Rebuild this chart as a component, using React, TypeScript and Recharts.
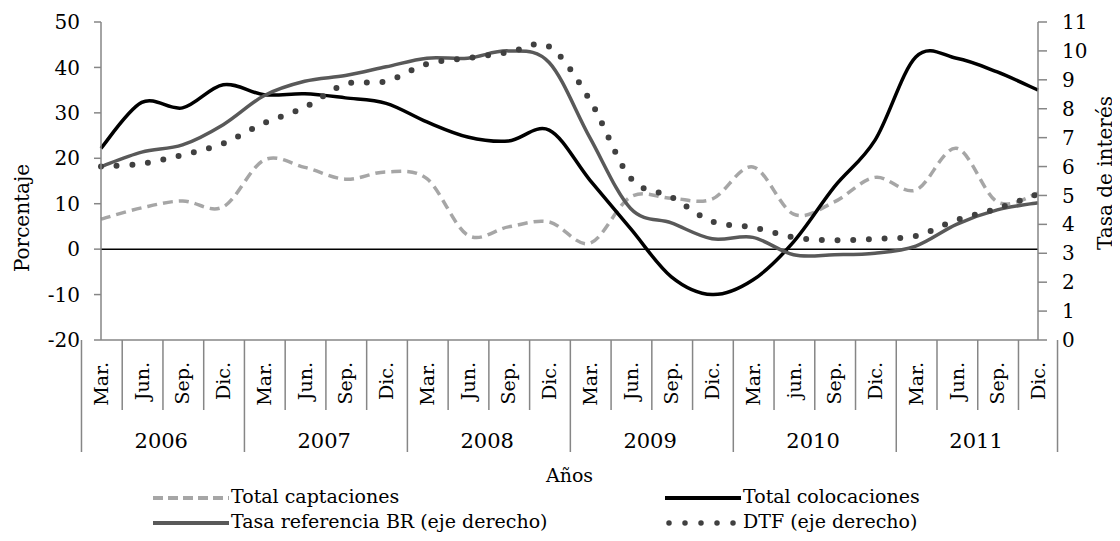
import { ComposedChart, Line, XAxis, YAxis, ReferenceLine } from 'recharts';

const quarters = ['Mar.', 'Jun.', 'Sep.', 'Dic.', 'Mar.', 'Jun.', 'Sep.', 'Dic.', 'Mar.', 'Jun.', 'Sep.', 'Dic.',
  'Mar.', 'Jun.', 'Sep.', 'Dic.', 'Mar.', 'jun.', 'Sep.', 'Dic.', 'Mar.', 'Jun.', 'Sep.', 'Dic.'];
const years = ['2006', '2007', '2008', '2009', '2010', '2011'];

// crecimiento anual (%), eje izquierdo
const captaciones = [6.6, 9.1, 10.6, 9.3, 19.6, 18.0, 15.4, 17.0, 15.5, 3.1, 4.9, 6.0,
  1.3, 11.5, 11.2, 11.0, 18.1, 7.7, 10.4, 15.8, 13.0, 22.2, 10.4, 12.3];
const colocaciones = [22.2, 32.3, 31.1, 36.2, 34.0, 34.2, 33.3, 32.1, 28.0, 24.7, 23.8, 26.2,
  15.2, 4.5, -6.1, -10.0, -6.8, 1.6, 13.7, 24.0, 42.3, 42.0, 39.0, 35.0];
// tasas (%), eje derecho
const tasaBR = [6.0, 6.5, 6.75, 7.45, 8.45, 8.95, 9.15, 9.45, 9.75, 9.75, 10.0, 9.6,
  7.0, 4.55, 4.05, 3.5, 3.55, 2.95, 2.95, 3.0, 3.25, 4.0, 4.5, 4.75];
const dtf = [6.0, 6.1, 6.4, 6.8, 7.5, 8.05, 8.85, 8.95, 9.55, 9.75, 9.95, 10.15,
  8.3, 5.6, 4.95, 4.1, 3.9, 3.55, 3.45, 3.5, 3.6, 4.15, 4.55, 5.05];

const leftTicks = [-20, -10, 0, 10, 20, 30, 40, 50];
const rightTicks = [0, 1, 2, 3, 4, 5, 6, 7, 8, 9, 10, 11];

const data = quarters.map((q, i) => ({
  q, captaciones: captaciones[i], colocaciones: colocaciones[i], br: tasaBR[i], dtf: dtf[i],
}));

const FONT = '"DejaVu Serif", serif';
const AXIS = '#868686';
const W = 1112, H = 525;
const LEFT_W = 93, RIGHT_W = 82, TOP = 14;
const PLOT_W = W - LEFT_W - RIGHT_W;

// Excel-style smoothed line (Catmull-Rom through the points)
const excelSmooth: any = (context: any) => {
  let pts: number[][] = [];
  return {
    areaStart() {},
    areaEnd() {},
    lineStart() { pts = []; },
    point(x: number, y: number) { pts.push([+x, +y]); },
    lineEnd() {
      if (!pts.length) return;
      context.moveTo(pts[0][0], pts[0][1]);
      for (let i = 0; i < pts.length - 1; i++) {
        const p0 = pts[i - 1] || pts[i];
        const p1 = pts[i];
        const p2 = pts[i + 1];
        const p3 = pts[i + 2] || p2;
        context.bezierCurveTo(
          p1[0] + (p2[0] - p0[0]) / 6, p1[1] + (p2[1] - p0[1]) / 6,
          p2[0] - (p3[0] - p1[0]) / 6, p2[1] - (p3[1] - p1[1]) / 6,
          p2[0], p2[1],
        );
      }
    },
  };
};

const series = [
  { key: 'captaciones', name: 'Total captaciones', axis: 'left', color: '#a6a6a6', width: 3.5, dash: '10 6', cap: 'butt' },
  { key: 'colocaciones', name: 'Total colocaciones', axis: 'left', color: '#000000', width: 3.5, dash: undefined, cap: 'butt' },
  { key: 'br', name: 'Tasa referencia BR (eje derecho)', axis: 'right', color: '#595959', width: 3.5, dash: undefined, cap: 'butt' },
  { key: 'dtf', name: 'DTF (eje derecho)', axis: 'right', color: '#404040', width: 6, dash: '0 15.7', cap: 'round' },
];

function QuarterTick(props: any) {
  const { x, y, payload } = props;
  const i = payload.index;
  const band = PLOT_W / quarters.length;
  const left = x - band / 2;
  return (
    <g>
      <line x1={left} y1={y} x2={left} y2={y + (i % 4 === 0 ? 112 : 70)} stroke={AXIS} strokeWidth={1.5} />
      {i === quarters.length - 1 && (
        <line x1={x + band / 2} y1={y} x2={x + band / 2} y2={y + 112} stroke={AXIS} strokeWidth={1.5} />
      )}
      <text transform={`translate(${x + 7},${y + 22}) rotate(-90)`} textAnchor="end" fontSize={19} fill="#000" fontFamily={FONT}>
        {payload.value}
      </text>
      {i % 4 === 1 && (
        <text x={x + band / 2} y={y + 108} textAnchor="middle" fontSize={21} fill="#000" fontFamily={FONT}>
          {years[Math.floor(i / 4)]}
        </text>
      )}
    </g>
  );
}

function LegendSwatch({ s }: { s: any }) {
  return (
    <svg width={76} height={12} style={{ verticalAlign: 'middle', marginRight: 2 }}>
      <line x1={s.cap === 'round' ? 4 : 0} y1={6} x2={s.cap === 'round' ? 72 : 76} y2={6}
        stroke={s.color} strokeWidth={s.key === 'dtf' ? 5.5 : 4}
        strokeDasharray={s.key === 'captaciones' ? '10 5' : s.key === 'dtf' ? '0 16' : undefined}
        strokeLinecap={s.cap} />
    </svg>
  );
}

export default function App() {
  return (
    <div style={{ position: 'relative', width: W, height: H, fontFamily: FONT }}>
      <ComposedChart width={W} height={H} data={data} margin={{ top: TOP, right: 0, bottom: 0, left: 0 }}>
        <XAxis dataKey="q" height={H - TOP - 318} interval={0} tickLine={false} tickSize={0} tickMargin={0}
          axisLine={{ stroke: AXIS, strokeWidth: 1.5 }} tick={<QuarterTick />}
          label={{
            content: (p: any) => (
              <text x={p.viewBox.x + p.viewBox.width / 2} y={p.viewBox.y + 142} textAnchor="middle" fontSize={19} fill="#000" fontFamily={FONT}>Años</text>
            ),
          }} />
        <YAxis yAxisId="left" width={LEFT_W} domain={[-20, 50]} ticks={leftTicks} interval={0}
          tickSize={7} tickMargin={14} axisLine={{ stroke: AXIS, strokeWidth: 1.5 }} tickLine={{ stroke: AXIS, strokeWidth: 1.5 }}
          tick={{ fill: '#000', fontSize: 20, fontFamily: FONT }}
          label={{
            content: () => (
              <text transform="translate(21,210) rotate(-90)" textAnchor="middle" fontSize={20} fill="#000" fontFamily={FONT}>Porcentaje</text>
            ),
          }} />
        <YAxis yAxisId="right" orientation="right" width={RIGHT_W} domain={[0, 11]} ticks={rightTicks} interval={0}
          tickSize={9} tickMargin={15} axisLine={{ stroke: AXIS, strokeWidth: 1.5 }} tickLine={{ stroke: AXIS, strokeWidth: 1.5 }}
          tick={{ fill: '#000', fontSize: 20, fontFamily: FONT, textAnchor: 'start' }}
          label={{
            content: () => (
              <text transform="translate(1104,165) rotate(-90)" textAnchor="middle" fontSize={20} fill="#000" fontFamily={FONT}>Tasa de interés</text>
            ),
          }} />
        <ReferenceLine yAxisId="left" y={0} stroke="#000" strokeWidth={1.5} />
        {series.map((s) => (
          <Line key={s.key} yAxisId={s.axis} dataKey={s.key} name={s.name} type={excelSmooth}
            stroke={s.color} strokeWidth={s.width} strokeDasharray={s.dash} strokeLinecap={s.cap as any}
            dot={false} activeDot={false} isAnimationActive={false} />
        ))}
      </ComposedChart>
      <div style={{
        position: 'absolute', left: 145, top: 477, width: 900, display: 'grid',
        gridTemplateColumns: '512px auto', rowGap: 2, fontSize: 19, lineHeight: '23px', color: '#000',
      }}>
        {series.map((s) => (
          <div key={s.key} style={{ whiteSpace: 'nowrap' }}>
            <LegendSwatch s={s} />
            <span>{s.name}</span>
          </div>
        ))}
      </div>
    </div>
  );
}
